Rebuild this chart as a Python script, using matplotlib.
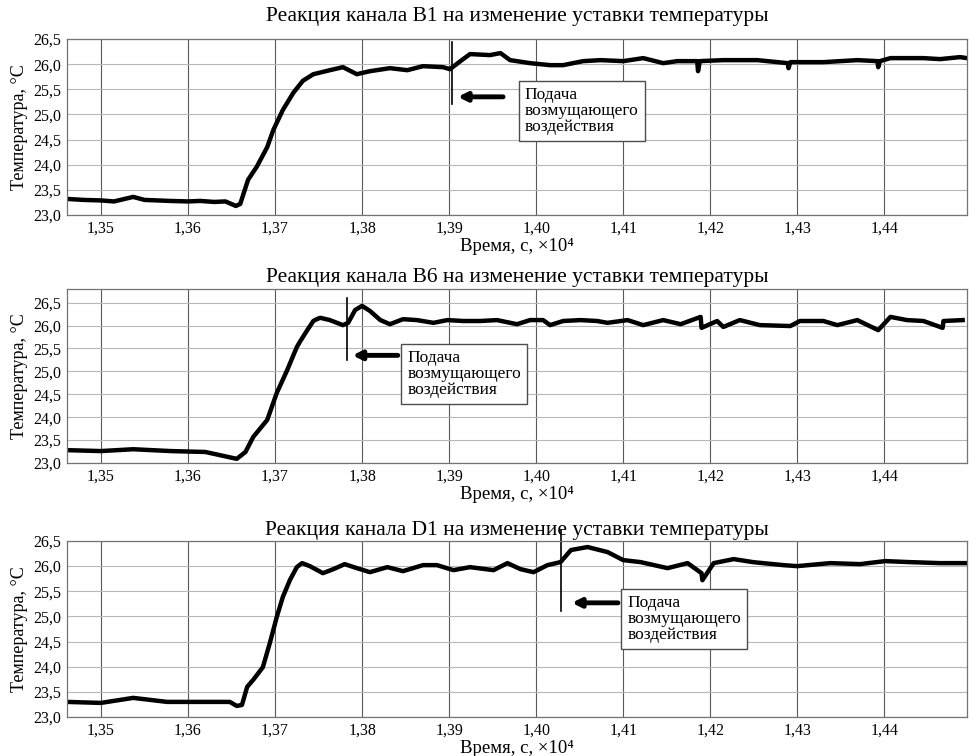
import numpy as np
import matplotlib
matplotlib.use("Agg")
import matplotlib.pyplot as plt
from matplotlib.ticker import FuncFormatter

plt.rcParams['font.family'] = ['Liberation Serif', 'DejaVu Serif']

# time in units of 1e4 s, temperature in deg C
t_b1 = [1.3461, 1.3480, 1.3500, 1.3515, 1.3537, 1.3550, 1.3579, 1.3600, 1.3614, 1.3630,
        1.3643, 1.3655, 1.3660, 1.3663, 1.3669, 1.3679, 1.3691, 1.3698, 1.3709, 1.3721,
        1.3732, 1.3744, 1.3763, 1.3778, 1.3794, 1.3809, 1.3832, 1.3852, 1.3870, 1.3893,
        1.3901, 1.3913, 1.3924, 1.3947, 1.3959, 1.3970, 1.3993, 1.4016, 1.4031, 1.4054,
        1.4074, 1.4100, 1.4123, 1.4146, 1.4162, 1.4185, 1.4186, 1.4188, 1.4215, 1.4254,
        1.4289, 1.4290, 1.4292, 1.4330, 1.4369, 1.4392, 1.4393, 1.4395, 1.4407, 1.4445,
        1.4464, 1.4487, 1.4495]
v_b1 = [23.32, 23.30, 23.29, 23.27, 23.36, 23.30, 23.28, 23.27, 23.28, 23.26,
        23.27, 23.18, 23.22, 23.38, 23.70, 23.96, 24.35, 24.69, 25.09, 25.43,
        25.67, 25.80, 25.88, 25.94, 25.80, 25.86, 25.92, 25.88, 25.96, 25.94,
        25.90, 26.06, 26.20, 26.18, 26.22, 26.08, 26.02, 25.98, 25.98, 26.06,
        26.08, 26.06, 26.12, 26.02, 26.06, 26.06, 25.86, 26.06, 26.08, 26.08,
        26.02, 25.92, 26.04, 26.04, 26.08, 26.06, 25.94, 26.06, 26.12, 26.12,
        26.10, 26.14, 26.12]

t_b6 = [1.3461, 1.3500, 1.3537, 1.3580, 1.3620, 1.3656, 1.3666, 1.3675, 1.3691, 1.3702,
        1.3714, 1.3725, 1.3729, 1.3737, 1.3744, 1.3748, 1.3752, 1.3763, 1.3778, 1.3784,
        1.3792, 1.3800, 1.3809, 1.3821, 1.3832, 1.3847, 1.3863, 1.3882, 1.3898, 1.3916,
        1.3936, 1.3955, 1.3978, 1.3993, 1.4008, 1.4016, 1.4031, 1.4051, 1.4070, 1.4082,
        1.4105, 1.4123, 1.4146, 1.4166, 1.4189, 1.4190, 1.4208, 1.4215, 1.4234, 1.4257,
        1.4292, 1.4303, 1.4330, 1.4346, 1.4369, 1.4393, 1.4407, 1.4426, 1.4445, 1.4467,
        1.4468, 1.4490]
v_b6 = [23.28, 23.26, 23.30, 23.26, 23.24, 23.09, 23.24, 23.57, 23.94, 24.53,
        25.03, 25.53, 25.66, 25.90, 26.10, 26.14, 26.17, 26.12, 26.01, 26.06,
        26.34, 26.43, 26.32, 26.12, 26.03, 26.14, 26.12, 26.06, 26.12, 26.10,
        26.10, 26.12, 26.03, 26.12, 26.12, 26.01, 26.10, 26.12, 26.10, 26.06,
        26.12, 26.01, 26.12, 26.03, 26.19, 25.95, 26.10, 25.97, 26.12, 26.01,
        25.99, 26.10, 26.10, 26.01, 26.12, 25.90, 26.19, 26.12, 26.10, 25.95,
        26.10, 26.12]

t_d1 = [1.3461, 1.3500, 1.3537, 1.3576, 1.3614, 1.3648, 1.3656, 1.3662, 1.3668, 1.3675,
        1.3686, 1.3694, 1.3702, 1.3709, 1.3717, 1.3725, 1.3731, 1.3740, 1.3755, 1.3767,
        1.3780, 1.3794, 1.3809, 1.3829, 1.3847, 1.3870, 1.3886, 1.3905, 1.3924, 1.3951,
        1.3967, 1.3982, 1.3997, 1.4013, 1.4028, 1.4040, 1.4059, 1.4082, 1.4100, 1.4120,
        1.4151, 1.4174, 1.4190, 1.4191, 1.4204, 1.4227, 1.4249, 1.4284, 1.4300, 1.4338,
        1.4372, 1.4401, 1.4429, 1.4464, 1.4495]
v_d1 = [23.30, 23.28, 23.38, 23.30, 23.30, 23.30, 23.22, 23.24, 23.60, 23.74,
        23.99, 24.47, 24.99, 25.39, 25.72, 25.98, 26.06, 26.00, 25.86, 25.94,
        26.04, 25.96, 25.88, 25.98, 25.90, 26.02, 26.02, 25.92, 25.98, 25.92,
        26.06, 25.94, 25.88, 26.02, 26.08, 26.32, 26.38, 26.28, 26.12, 26.08,
        25.96, 26.06, 25.86, 25.72, 26.06, 26.14, 26.08, 26.02, 26.00, 26.06,
        26.04, 26.10, 26.08, 26.06, 26.06]

panels = [
    dict(title='Реакция канала В1 на изменение уставки температуры', t=t_b1, v=v_b1,
         ylim=(23.0, 26.5), vline=(1.3903, 25.20, 26.45), arrow=(1.3962, 1.3910, 25.35),
         box=(1.3987, 25.55), pad=13),
    dict(title='Реакция канала В6 на изменение уставки температуры', t=t_b6, v=v_b6,
         ylim=(23.0, 26.8), vline=(1.3783, 25.24, 26.61), arrow=(1.3841, 1.3789, 25.35),
         box=(1.3852, 25.47), pad=5),
    dict(title='Реакция канала D1 на изменение уставки температуры', t=t_d1, v=v_d1,
         ylim=(23.0, 26.5), vline=(1.4028, 25.11, 26.72), arrow=(1.4094, 1.4041, 25.27),
         box=(1.4105, 25.43), pad=4),
]

xticks = [1.35, 1.36, 1.37, 1.38, 1.39, 1.40, 1.41, 1.42, 1.43, 1.44]
yticks = [23.0, 23.5, 24.0, 24.5, 25.0, 25.5, 26.0, 26.5]

fig = plt.figure(figsize=(9.7, 7.56), dpi=100)
bottoms = [0.7156, 0.3876, 0.0516]
heights = [0.2328, 0.2302, 0.2328]

comma = FuncFormatter(lambda x, pos: f'{x:.2f}'.replace('.', ','))
comma1 = FuncFormatter(lambda x, pos: f'{x:.1f}'.replace('.', ','))

for p, b, h in zip(panels, bottoms, heights):
    ax = fig.add_axes([0.0691, b, 0.9278, h])
    ax.plot(p['t'], p['v'], color='black', lw=3.2, solid_joinstyle='round')
    ax.set_xlim(1.3461, 1.4495)
    ax.set_ylim(*p['ylim'])
    ax.set_xticks(xticks)
    ax.set_yticks(yticks)
    ax.xaxis.set_major_formatter(comma)
    ax.yaxis.set_major_formatter(comma1)
    ax.tick_params(length=0, labelsize=11.5, pad=4)
    ax.grid(axis='x', color='0.35', lw=0.8)
    ax.grid(axis='y', color='0.72', lw=0.8)
    ax.set_axisbelow(True)
    for s in ax.spines.values():
        s.set_color('0.45')
        s.set_linewidth(0.9)
    ax.set_title(p['title'], fontsize=15.5, pad=p['pad'])
    ax.set_xlabel('Время, с, ×10⁴', fontsize=13.5, labelpad=1)
    ax.set_ylabel('Температура, °C', fontsize=13, labelpad=4)

    tx, y0, y1 = p['vline']
    ax.plot([tx, tx], [y0, y1], color='black', lw=1.2, clip_on=False)
    a0, a1, ay = p['arrow']
    ax.annotate('', xy=(a1, ay), xytext=(a0, ay),
                arrowprops=dict(arrowstyle='-|>,head_length=0.5,head_width=0.25',
                                color='black', lw=3.5, shrinkA=0, shrinkB=0))
    bx, by = p['box']
    ax.text(bx, by, 'Подача\nвозмущающего\nвоздействия', ha='left', va='top',
            fontsize=12.5, linespacing=1.0,
            bbox=dict(boxstyle='square,pad=0.35', facecolor='white', edgecolor='0.3', lw=1.0))

fig.savefig('out.png', dpi=100)
